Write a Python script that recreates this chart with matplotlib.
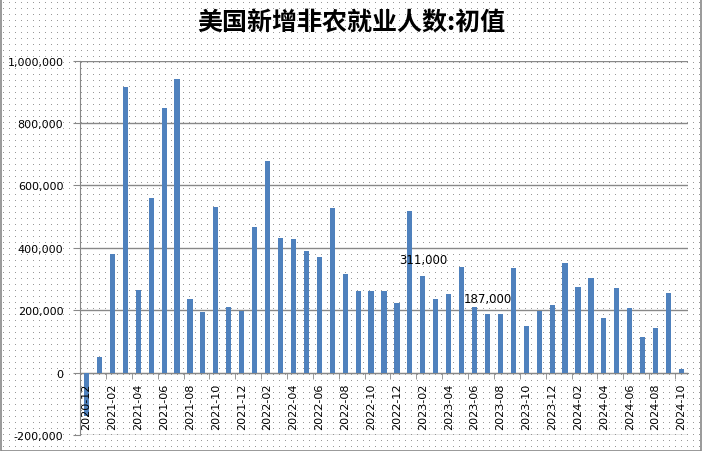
import numpy as np
import matplotlib.pyplot as plt
from matplotlib.patches import Rectangle
from matplotlib.ticker import FuncFormatter

plt.rcParams['font.family'] = ['Noto Sans CJK SC', 'DejaVu Sans']

# 月份与初值 (人)
months = ['2020-12', '2021-01', '2021-02', '2021-03', '2021-04', '2021-05', '2021-06',
          '2021-07', '2021-08', '2021-09', '2021-10', '2021-11', '2021-12', '2022-01',
          '2022-02', '2022-03', '2022-04', '2022-05', '2022-06', '2022-07', '2022-08',
          '2022-09', '2022-10', '2022-11', '2022-12', '2023-01', '2023-02', '2023-03',
          '2023-04', '2023-05', '2023-06', '2023-07', '2023-08', '2023-09', '2023-10',
          '2023-11', '2023-12', '2024-01', '2024-02', '2024-03', '2024-04', '2024-05',
          '2024-06', '2024-07', '2024-08', '2024-09', '2024-10']
values = [-140000, 49000, 379000, 916000, 266000, 559000, 850000,
          943000, 235000, 194000, 531000, 210000, 199000, 467000,
          678000, 431000, 428000, 390000, 372000, 528000, 315000,
          263000, 261000, 263000, 223000, 517000, 311000, 236000,
          253000, 339000, 209000, 187000, 187000, 336000, 150000,
          199000, 216000, 353000, 275000, 303000, 175000, 272000,
          206000, 114000, 142000, 254000, 12000]
labeled = ['2023-02', '2023-07']

fig = plt.figure(figsize=(7.02, 4.52), dpi=100)
fig.patch.set_facecolor('white')

# 点状底纹
bg = np.ones((452, 702, 3))
bg[3::6, 3::6] = 0.6
fig.figimage(bg, 0, 0, zorder=-10)
fig.patches.append(Rectangle((0.001, 0.001), 0.998, 0.998, transform=fig.transFigure,
                             facecolor='none', edgecolor='#888888', lw=1.2, zorder=-5))

ax = fig.add_axes([0.114, 0.0354, 0.866, 0.828])
ax.set_facecolor('none')

x = np.arange(len(months))
ax.bar(x, values, width=0.4, color='#4F81BD', zorder=3)

ax.set_xlim(-0.5, len(months) - 0.5)
ax.set_ylim(-200000, 1000000)
ax.set_yticks(np.arange(-200000, 1000001, 200000))
ax.yaxis.set_major_formatter(FuncFormatter(lambda v, p: f'{int(v):,}'))
ax.grid(axis='y', color='#888888', lw=1, zorder=0)

for s in ['top', 'right']:
    ax.spines[s].set_visible(False)
ax.spines['bottom'].set_position(('data', 0))
ax.spines['bottom'].set_color('#888888')
ax.spines['left'].set_color('#888888')
ax.xaxis.set_zorder(4)

ax.set_xticks(x[::2])
ax.set_xticklabels(months[::2], rotation=90, fontsize=8, family='DejaVu Sans')
ax.set_xticks(x[::2] - 0.5, minor=True)
ax.tick_params(axis='x', which='major', length=0, pad=7)
ax.tick_params(axis='x', which='minor', length=4, color='#888888', direction='out')
ax.tick_params(axis='y', length=5, color='#888888', labelsize=8, pad=7)
for lab in ax.get_yticklabels():
    lab.set_family('DejaVu Sans')

for m in labeled:
    i = months.index(m)
    ax.annotate(f'{values[i]:,}', (x[i], values[i]), xytext=(0, 7), textcoords='offset points',
                ha='center', va='bottom', fontsize=8.5, family='DejaVu Sans', zorder=4)

fig.text(0.5, 0.948, '美国新增非农就业人数:初值', ha='center', va='center',
         fontsize=18, fontweight='bold')

fig.savefig('out.png', dpi=100)
